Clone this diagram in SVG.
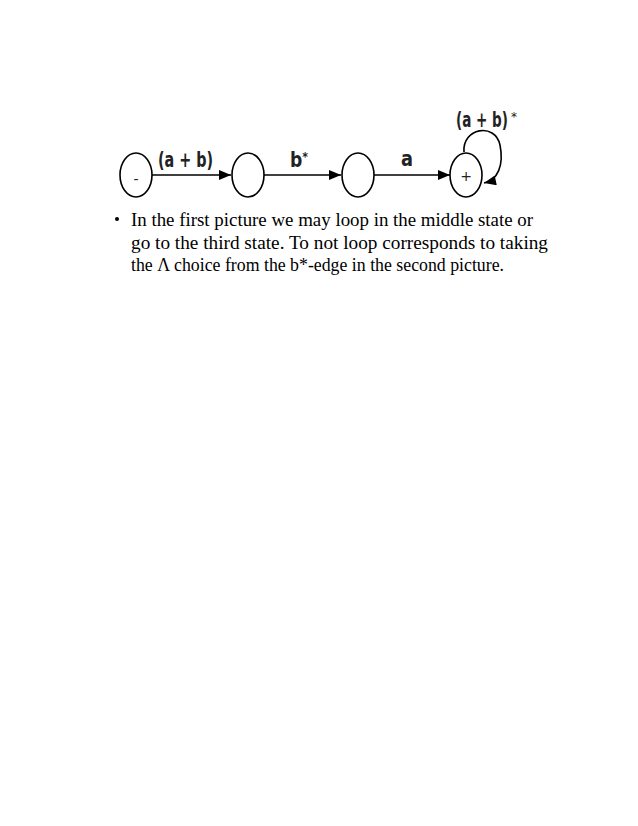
<svg xmlns="http://www.w3.org/2000/svg" width="638" height="826" viewBox="0 0 638 826">
<defs>
<style>
.st{fill:#fff;stroke:#000;stroke-width:1.6}
.ed{fill:none;stroke:#000;stroke-width:1.6}
.lb{font-family:"DejaVu Sans Condensed","Liberation Sans Narrow","Liberation Sans",sans-serif;font-weight:bold;font-size:21px;fill:#222}
.su{font-family:"DejaVu Sans","Liberation Sans",sans-serif;font-size:12px;fill:#222}
.sm{font-family:"DejaVu Sans","Liberation Sans",sans-serif;font-size:14px;fill:#222}
.tx{font-family:"Liberation Serif","Times New Roman",serif;font-size:18.5px;fill:#000}
</style>
<marker id="ah2" viewBox="0 0 12 10" refX="12" refY="5" markerWidth="13" markerHeight="10" markerUnits="userSpaceOnUse" orient="auto">
<path d="M0,0 L12,5 L0,10 Z" fill="#000"/>
</marker>
</defs>
<g id="connectors">
<line class="ed" x1="152" y1="175" x2="231" y2="175" marker-end="url(#ah2)"/>
<line class="ed" x1="264" y1="175" x2="341" y2="175" marker-end="url(#ah2)"/>
<line class="ed" x1="374" y1="175" x2="450" y2="175" marker-end="url(#ah2)"/>
<path class="ed" d="M464,152 C462,128 495,122 500,145 C504,165 498,180 484,183" marker-end="url(#ah2)"/>
<text class="lb" x="158" y="167" textLength="55" lengthAdjust="spacingAndGlyphs">(a + b)</text>
<text class="lb" x="290" y="167" textLength="18" lengthAdjust="spacingAndGlyphs">b<tspan class="su" dy="-6">*</tspan></text>
<text class="lb" transform="translate(456,127) scale(0.716,1)" x="0" y="0">(a + b)</text>
<text class="su" x="511" y="121">*</text>
<text class="lb" x="401" y="166" textLength="12" lengthAdjust="spacingAndGlyphs">a</text>
</g>
<g id="s1"><ellipse class="st" cx="136" cy="175" rx="16" ry="22"/><text class="sm" x="136" y="184" text-anchor="middle">-</text></g>
<g id="s2"><ellipse class="st" cx="248" cy="175" rx="16" ry="22"/></g>
<g id="s3"><ellipse class="st" cx="358" cy="175" rx="16" ry="22"/></g>
<g id="s4"><ellipse class="st" cx="466" cy="175" rx="16" ry="22"/><text class="sm" x="466" y="181" text-anchor="middle">+</text></g>
<g id="text">
<circle cx="117" cy="219" r="2" fill="#000"/>
<text class="tx" x="131" y="226" textLength="402" lengthAdjust="spacingAndGlyphs">In the first picture we may loop in the middle state or</text>
<text class="tx" x="131" y="249" textLength="417" lengthAdjust="spacingAndGlyphs">go to the third state. To not loop corresponds to taking</text>
<text class="tx" x="131" y="271" textLength="373" lengthAdjust="spacingAndGlyphs">the Λ choice from the b*-edge in the second picture.</text>
</g>
</svg>
